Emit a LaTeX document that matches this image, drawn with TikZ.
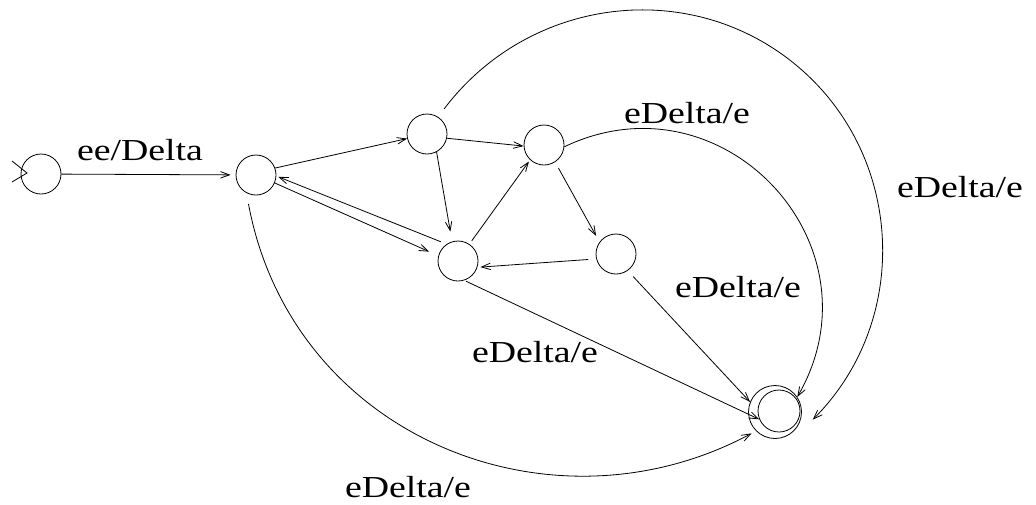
\documentclass[tikz,border=0pt]{standalone}
\usepackage{fontspec}
\setmainfont{Liberation Serif}[FakeStretch=1.24]
\usetikzlibrary{arrows.meta}
\begin{document}
\begin{tikzpicture}[x=1pt,y=-1pt, line width=0.8pt,
  state/.style={circle,draw,minimum size=40pt,inner sep=0pt},
  arr/.style={-{Straight Barb[length=9pt,width=6.5pt]}},
  lab/.style={font=\fontsize{30.5}{33}\selectfont, anchor=base, inner sep=0pt}]
\useasboundingbox (0,0) rectangle (1036,504);
% states
\node[state] (q0) at (41,174) {};
\node[state] (q1) at (256,175) {};
\node[state] (q2) at (427,134) {};
\node[state] (q3) at (544,145) {};
\node[state] (q4) at (458,261) {};
\node[state] (q5) at (616,254) {};
\node[state,minimum size=53pt] (q6) at (775,412) {};
\node[state,minimum size=42pt] (qf) at (779,411) {};
% initial marker
\draw (12,161) -- (27,173) -- (12,182);
% straight transitions
\draw[arr, shorten >=5pt] (q0) -- (q1);
\draw[arr] (q1.20) -- (q2.193);
\draw[arr, shorten >=10pt] (q1.-23) -- (q4.165);
\draw[arr, shorten <=6pt, shorten >=2pt] (q4.124) -- (q1.-3);
\draw[arr, shorten >=10pt] (q2.-62) -- (q4.107);
\draw[arr] (q2.-12) -- (q3.183);
\draw[arr, shorten <=4pt, shorten >=2pt] (q4.56) -- (q3.227);
\draw[arr, shorten <=7pt, shorten >=7pt] (q3.-57) -- (q5.144);
\draw[arr, shorten <=8pt, shorten >=3pt] (q5.194) -- (q4.-18);
\draw[arr, shorten <=2pt] (q4.-72) -- (qf.203);
\draw[arr, shorten <=8pt] (q5.-55) -- (q6.158);
% curved transitions
\draw[arr] (q3.-5) .. controls (723,71) and (885,245) .. (q6.34);
\draw[arr, shorten <=11pt, shorten >=5pt] (q1.242) .. controls (292,437) and (551,541) .. (q6.225);
\coordinate (m2) at (797.3,66.1);
\coordinate (e2) at (812.7,419.7);
\draw[arr, shorten <=10pt] (q2.57) .. controls (528.8,-3.2) and (690.2,-23.8) .. (m2)
   .. controls (904.4,156) and (911.6,320.8) .. (e2);
% labels
\node[lab] at (140,160) {ee/Delta};
\node[lab] at (687,123) {eDelta/e};
\node[lab] at (960,197) {eDelta/e};
\node[lab] at (738,297) {eDelta/e};
\node[lab] at (535,362) {eDelta/e};
\node[lab] at (408,497) {eDelta/e};
\end{tikzpicture}
\end{document}
